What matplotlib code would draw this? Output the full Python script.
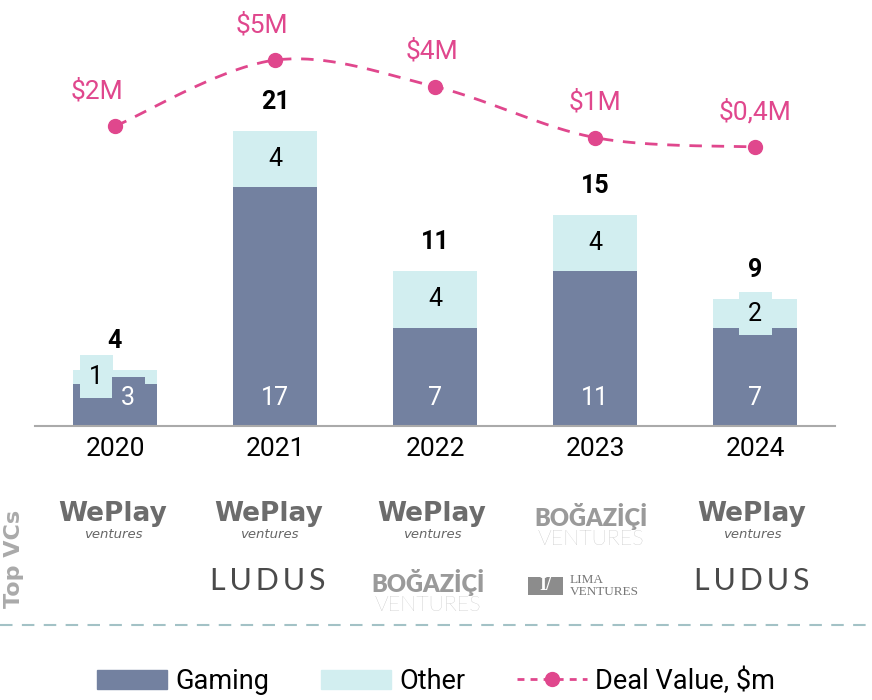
import numpy as np
import matplotlib.pyplot as plt
from matplotlib.patches import Patch, Rectangle
from matplotlib.lines import Line2D

plt.rcParams['font.family'] = ['Roboto', 'DejaVu Sans']

years = ['2020', '2021', '2022', '2023', '2024']
gaming = [3, 17, 7, 11, 7]
other = [1, 4, 4, 4, 2]
deal_value = [1.5, 5.0, 3.6, 0.9, 0.4]
deal_labels = ['$2M', '$5M', '$4M', '$1M', '$0,4M']

c_gaming = '#7381a0'
c_other = '#d2eef0'
c_pink = '#e0478d'

W, H = 872, 700
fig = plt.figure(figsize=(W / 100, H / 100), dpi=100)


def fx(px):
    return px / W


def fy(py):
    return 1 - py / H


ax = fig.add_axes([fx(35), fy(426), 800 / W, 426 / H])
x = np.arange(len(years))
total = [g + o for g, o in zip(gaming, other)]

ax.bar(x, gaming, width=0.525, color=c_gaming, zorder=2)
ax.bar(x, other, bottom=gaming, width=0.525, color=c_other, zorder=2)
ax.set_xlim(-0.5, 4.5)
ax.set_ylim(0, 426 / 14.06)

# labels inside bars (first bar shifted sideways like the original)
g_dx = [13, 0, 0, 0, 0]
o_dx = [-19, 0, 0, 0, 0]
for i in range(len(years)):
    ax.annotate(str(gaming[i]), (x[i], 0), xytext=(g_dx[i], 28), textcoords='offset pixels',
                ha='center', va='center', fontsize=18, color='white', zorder=4,
                bbox=dict(boxstyle='square,pad=0.38', fc=c_gaming, ec='none'))
    ax.annotate(str(other[i]), (x[i], gaming[i] + other[i] / 2), xytext=(o_dx[i], 0),
                textcoords='offset pixels', ha='center', va='center', fontsize=18,
                color='black', zorder=3,
                bbox=dict(boxstyle='square,pad=0.38', fc=c_other, ec='none'))
    ax.annotate(str(total[i]), (x[i], total[i]), xytext=(0, 29), textcoords='offset pixels',
                ha='center', va='center', fontsize=18, fontweight='bold', color='black')

for s in ['top', 'right', 'left']:
    ax.spines[s].set_visible(False)
ax.spines['bottom'].set_color('#aaaaaa')
ax.spines['bottom'].set_linewidth(1.5)
ax.spines['bottom'].set_zorder(5)
ax.set_yticks([])
ax.set_xticks(x)
ax.set_xticklabels(years, fontsize=19)
ax.tick_params(axis='x', length=0, pad=8)

# deal value line, smoothed (Catmull-Rom through the points)
ax2 = ax.twinx()
ax2.set_ylim(-14.36, 8.18)
ax2.axis('off')
px = np.concatenate([[x[0]], x, [x[-1]]]).astype(float)
py = np.concatenate([[deal_value[0]], deal_value, [deal_value[-1]]])
sx, sy = [], []
t = np.linspace(0, 1, 40)
for k in range(1, len(px) - 2):
    for arr, out in ((px, sx), (py, sy)):
        p0, p1, p2, p3 = arr[k - 1], arr[k], arr[k + 1], arr[k + 2]
        out.extend(0.5 * (2 * p1 + (-p0 + p2) * t + (2 * p0 - 5 * p1 + 4 * p2 - p3) * t ** 2
                          + (-p0 + 3 * p1 - 3 * p2 + p3) * t ** 3))
ax2.plot(sx, sy, color=c_pink, linewidth=2, dashes=(4.5, 3.5), zorder=3)
ax2.plot(x, deal_value, 'o', color=c_pink, markersize=10, zorder=4)
lab_dx = [-18, -13, -3, 0, 0]
for i in range(len(years)):
    ax2.annotate(deal_labels[i], (x[i], deal_value[i]), xytext=(lab_dx[i], 35),
                 textcoords='offset pixels', ha='center', va='center',
                 fontsize=19, color=c_pink)

# Top VCs section
fig.text(fx(14), fy(559), 'Top VCs', rotation=90, ha='center', va='center',
         fontsize=16, fontweight='bold', color='#aaaaaa', family=['DejaVu Sans'])


def weplay(cx, cy):
    fig.text(fx(cx), fy(cy), 'WePlay', ha='center', va='center', fontsize=19,
             fontweight='bold', color='#6c6c6c', family=['DejaVu Sans'])
    fig.text(fx(cx), fy(cy + 20), 'ventures', ha='center', va='center', fontsize=9.5,
             style='italic', color='#666666', family=['DejaVu Sans'])


def bogazici(cx, cy):
    fig.text(fx(cx), fy(cy), 'BOĞAZİÇİ', ha='center', va='center', fontsize=17,
             fontweight='heavy', color='#9a9a9a', family=['Lato', 'DejaVu Sans'])
    fig.text(fx(cx), fy(cy + 23), 'VENTURES', ha='center', va='center', fontsize=15.5,
             fontweight='light', color='#a8a8a8', family=['Lato', 'DejaVu Sans'])


def ludus(cx, cy):
    fig.text(fx(cx), fy(cy), 'L\u2009U\u2009D\u2009U\u2009S', ha='center', va='center',
             fontsize=22, fontweight='normal', color='#4a4a4a',
             family=['Lato', 'DejaVu Sans'])


def lima(cx, cy):
    fig.patches.append(Rectangle((fx(cx - 67), fy(cy + 9)), 35 / W, 18 / H,
                                 transform=fig.transFigure, fc='#8c8c8c', ec='none'))
    fig.text(fx(cx - 49.5), fy(cy), 'I/', ha='center', va='center', fontsize=13,
             fontweight='bold', color='white', family=['Liberation Serif'])
    fig.text(fx(cx - 25), fy(cy), 'LIMA\nVENTURES', ha='left', va='center', fontsize=9.5,
             color='#777777', family=['Liberation Serif'], linespacing=1.0)


weplay(113, 514)
weplay(269, 514)
weplay(432, 514)
bogazici(591, 516)
weplay(752, 514)
ludus(268, 581)
bogazici(428, 582)
lima(595, 586)
ludus(752, 581)

fig.add_artist(Line2D([0, 1], [fy(625), fy(625)], transform=fig.transFigure,
                      color='#a3c2c6', linewidth=1.5, dashes=(6, 4.5)))

handles = [Patch(color=c_gaming), Patch(color=c_other),
           Line2D([], [], color=c_pink, linewidth=2, dashes=(2.5, 2.2), marker='o', markersize=10)]
fig.legend(handles, ['Gaming', 'Other', 'Deal Value, $m'], loc='center',
           bbox_to_anchor=(0.5, fy(681)), ncol=3, frameon=False, fontsize=19.5,
           handlelength=2.6, handletextpad=0.3, columnspacing=1.9)

plt.savefig('out.png', dpi=100)
